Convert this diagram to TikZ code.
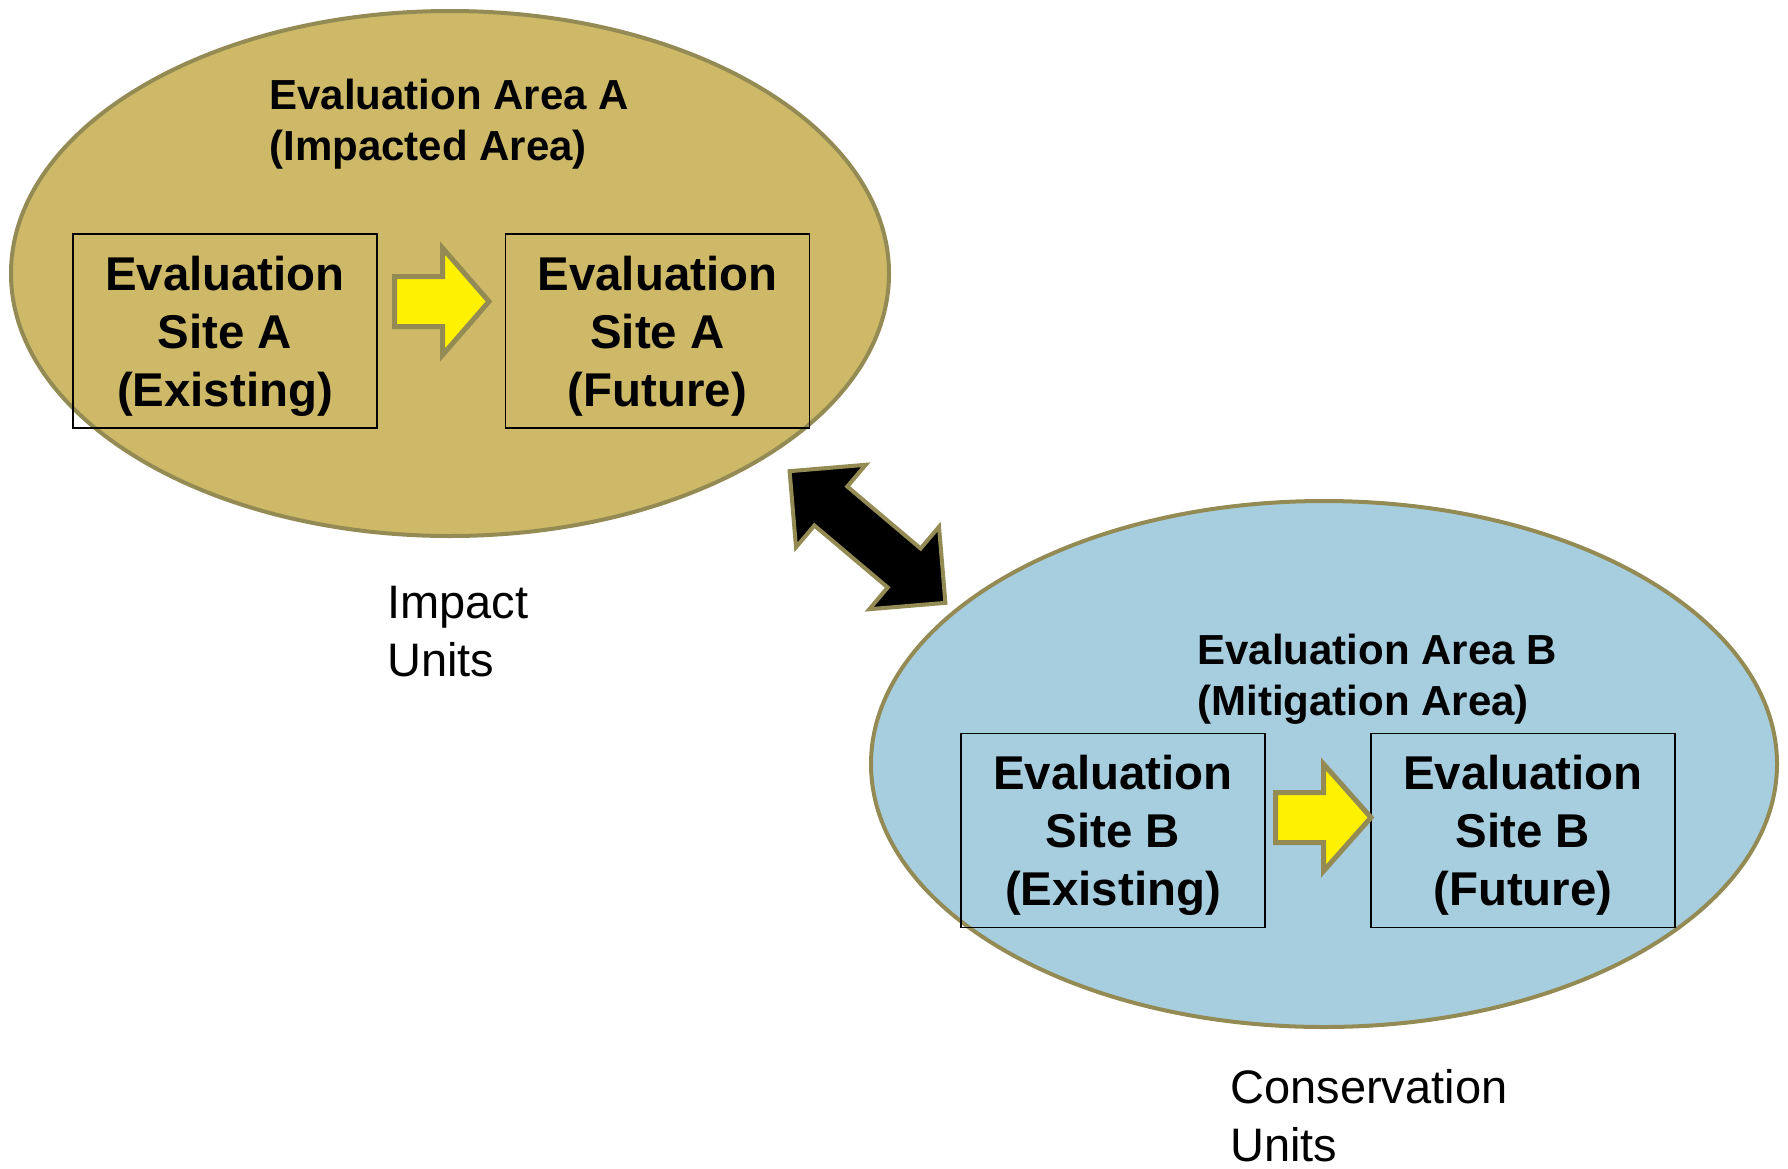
\documentclass[tikz,border=0pt]{standalone}
\usepackage{fontspec}
\setmainfont{Liberation Sans}
\usetikzlibrary{shapes.geometric}
\definecolor{tanfill}{HTML}{CDB967}
\definecolor{olivedark}{HTML}{948A54}
\definecolor{skyfill}{HTML}{A6CEDF}

\begin{document}
\begin{tikzpicture}[x=0.5pt, y=-0.5pt,
    areabox/.style={ellipse, draw=olivedark, line width=2pt, inner sep=0pt},
    sitebox/.style={draw, line width=0.8pt, minimum width=152pt, minimum height=97pt, inner sep=0pt,
        text depth=0pt, align=center, font=\fontsize{23.7}{29}\selectfont\bfseries},
    areatitle/.style={anchor=west, align=left, inner sep=0pt, font=\fontsize{21}{25.6}\selectfont\bfseries},
    unitlabel/.style={anchor=west, align=left, inner sep=0pt, font=\fontsize{23.5}{29}\selectfont},
    yarrow/.style={fill=yellow, draw=olivedark, line width=2.5pt, line join=miter},
    exchange/.style={fill=black, draw=olivedark, line width=2pt, line join=miter}]
    \useasboundingbox (0,0) rectangle (1788,1168);

    \node[areabox, fill=tanfill, minimum width=439pt, minimum height=262.5pt] (areaA) at (450,273.5) {};
    \node[areabox, fill=skyfill, minimum width=453pt, minimum height=263pt] (areaB) at (1324,764) {};

    \node[areatitle] (titleA) at (269,124) {Evaluation Area A\\(Impacted Area)};
    \node[areatitle] (titleB) at (1197,679) {Evaluation Area B\\(Mitigation Area)};

    \node[sitebox] (siteAnow) at (225,331) {Evaluation\\Site A\\(Existing)};
    \node[sitebox] (siteAnext) at (657.5,331) {Evaluation\\Site A\\(Future)};
    \node[sitebox] (siteBnow) at (1113,830.5) {Evaluation\\Site B\\(Existing)};
    \node[sitebox] (siteBnext) at (1523,830.5) {Evaluation\\Site B\\(Future)};

    % block arrows: existing -> future
    \draw[yarrow, shift={(394.5,301.5)}] (0,-25) -- (48,-25) -- (48,-53.5) -- (94.5,0)
        -- (48,53.5) -- (48,25) -- (0,25) -- cycle;
    \draw[yarrow, shift={(1275.5,817.5)}] (0,-25) -- (48,-25) -- (48,-53.5) -- (95.5,0)
        -- (48,53.5) -- (48,25) -- (0,25) -- cycle;

    % two-way arrow between the areas
    \draw[exchange, shift={(867.5,537)}, rotate=-40.2] (-102,0) -- (-48,54) -- (-48,25.5)
        -- (48,25.5) -- (48,54) -- (102,0) -- (48,-54) -- (48,-25.5) -- (-48,-25.5)
        -- (-48,-54) -- cycle;

    \node[unitlabel] (impact) at (387,632) {Impact\\Units};
    \node[unitlabel] (conserve) at (1230,1116) {Conservation\\Units};
\end{tikzpicture}
\end{document}
